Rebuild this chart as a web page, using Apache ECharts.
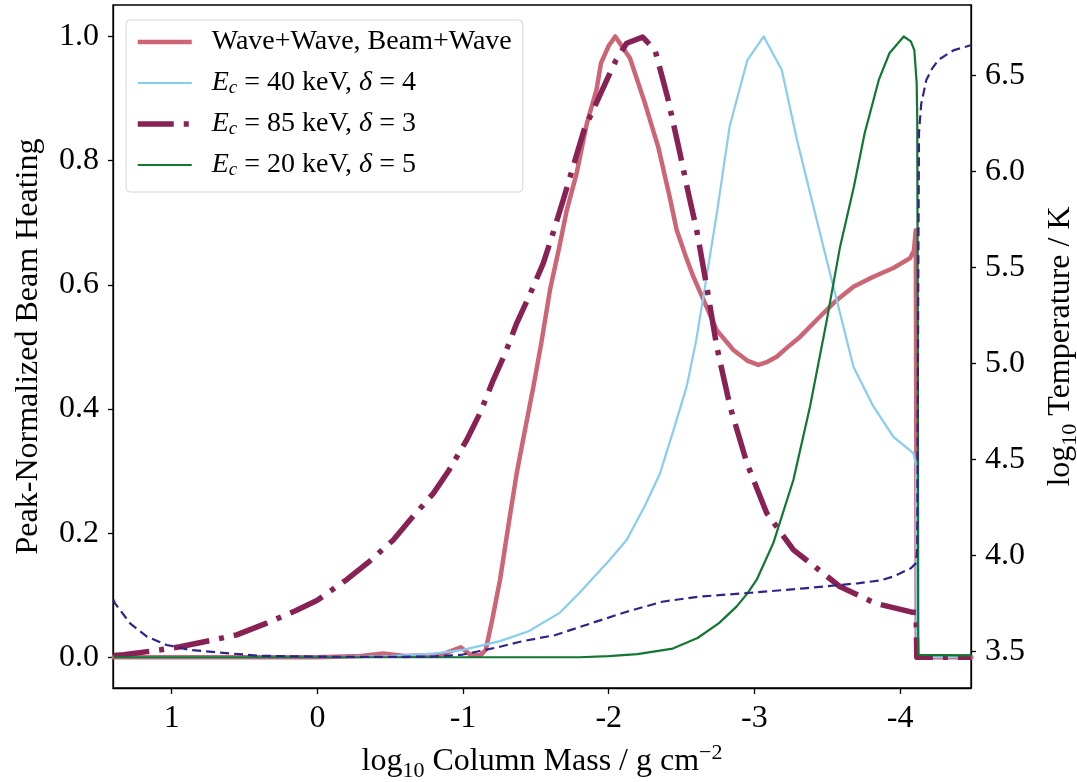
<!DOCTYPE html>
<html>
<head>
<meta charset="utf-8">
<script src="https://cdn.jsdelivr.net/npm/echarts@6/dist/echarts.min.js"></script>
<style>
  html, body { margin: 0; padding: 0; background: #fff; }
  #chart { width: 1077px; height: 782px; }
</style>
</head>
<body>
<div id="chart"></div>
<script>
// ---- Data ----
const xTicks = [1, 0, -1, -2, -3, -4];
const yLeftTicks = [0.0, 0.2, 0.4, 0.6, 0.8, 1.0];
const yRightTicks = [3.5, 4.0, 4.5, 5.0, 5.5, 6.0, 6.5];

const seriesNames = [
  'Wave+Wave, Beam+Wave',
  'E_c = 40 keV, δ = 4',
  'E_c = 85 keV, δ = 3',
  'E_c = 20 keV, δ = 5'
];

// Wave+Wave, Beam+Wave (peak-normalized heating)
const waveX = [1.40, 1.0, 0.5, 0.0, -0.3, -0.45, -0.6, -0.85, -0.984, -1.05, -1.12, -1.156, -1.2, -1.254, -1.31, -1.368, -1.42, -1.483, -1.54, -1.597, -1.66, -1.712, -1.78, -1.85, -1.916, -1.947, -2.0, -2.045, -2.146, -2.245, -2.342, -2.42, -2.467, -2.53, -2.581, -2.65, -2.741, -2.856, -2.95, -3.027, -3.09, -3.153, -3.23, -3.313, -3.451, -3.554, -3.68, -3.817, -3.954, -4.069, -4.095, -4.108, -4.115, -4.49];
const waveY = [0, 0, 0, 0, 0.002, 0.006, 0.002, 0.004, 0.016, 0.004, 0.003, 0.012, 0.06, 0.125, 0.21, 0.296, 0.36, 0.436, 0.51, 0.592, 0.66, 0.72, 0.78, 0.86, 0.914, 0.957, 0.985, 1.0, 0.965, 0.895, 0.82, 0.74, 0.688, 0.645, 0.613, 0.576, 0.527, 0.495, 0.478, 0.471, 0.476, 0.484, 0.5, 0.516, 0.549, 0.573, 0.597, 0.613, 0.627, 0.643, 0.655, 0.688, 0.0, 0.0];

// E_c = 40 keV, delta = 4
const e40X = [1.40, 0.0, -0.5, -0.8, -1.0, -1.254, -1.45, -1.666, -1.8, -1.894, -2.0, -2.123, -2.25, -2.352, -2.45, -2.535, -2.6, -2.65, -2.742, -2.776, -2.83, -2.952, -3.064, -3.188, -3.293, -3.36, -3.474, -3.588, -3.68, -3.817, -3.954, -4.091, -4.11, -4.115, -4.49];
const e40Y = [0, 0, 0.002, 0.006, 0.012, 0.026, 0.042, 0.072, 0.104, 0.128, 0.155, 0.189, 0.245, 0.296, 0.37, 0.436, 0.51, 0.581, 0.715, 0.769, 0.855, 0.962, 1.0, 0.946, 0.833, 0.769, 0.661, 0.554, 0.468, 0.404, 0.355, 0.329, 0.31, 0, 0];

// E_c = 85 keV, delta = 3
const e85X = [1.40, 1.33, 1.075, 0.943, 0.714, 0.554, 0.348, 0.15, 0.0, -0.201, -0.36, -0.521, -0.65, -0.796, -0.9, -1.025, -1.12, -1.208, -1.29, -1.368, -1.46, -1.551, -1.62, -1.688, -1.83, -1.977, -2.05, -2.123, -2.233, -2.318, -2.403, -2.489, -2.549, -2.604, -2.673, -2.742, -2.833, -2.948, -3.085, -3.268, -3.474, -3.586, -3.83, -4.074, -4.11, -4.115, -4.49];
const e85Y = [0.003, 0.004, 0.012, 0.017, 0.028, 0.036, 0.055, 0.075, 0.092, 0.125, 0.155, 0.189, 0.225, 0.264, 0.3, 0.35, 0.395, 0.447, 0.49, 0.538, 0.585, 0.635, 0.685, 0.737, 0.849, 0.925, 0.962, 0.989, 0.999, 0.978, 0.903, 0.812, 0.745, 0.688, 0.597, 0.5, 0.404, 0.313, 0.232, 0.173, 0.135, 0.114, 0.087, 0.073, 0.072, 0.0, 0.0];

// E_c = 20 keV, delta = 5
const e20X = [1.40, 0.0, -1.0, -1.8, -2.0, -2.196, -2.44, -2.61, -2.757, -2.879, -2.952, -3.016, -3.13, -3.268, -3.382, -3.497, -3.588, -3.683, -3.757, -3.854, -3.927, -4.025, -4.074, -4.098, -4.114, -4.118, -4.122, -4.125, -4.49];
const e20Y = [0, 0, 0, 0, 0.002, 0.005, 0.014, 0.031, 0.055, 0.082, 0.103, 0.125, 0.184, 0.286, 0.404, 0.543, 0.661, 0.758, 0.844, 0.93, 0.973, 1.0, 0.992, 0.978, 0.925, 0.866, 0.5, 0.004, 0.003];

// log10 Temperature / K (right axis)
const tempX = [1.40, 1.389, 1.286, 1.17, 1.034, 0.874, 0.668, 0.4, 0.0, -0.5, -0.8, -0.984, -1.1, -1.254, -1.392, -1.635, -1.879, -2.123, -2.367, -2.61, -2.976, -3.342, -3.708, -3.863, -3.952, -4.074, -4.11, -4.118, -4.126, -4.13, -4.145, -4.18, -4.22, -4.263, -4.366, -4.49];
const tempY = [3.77, 3.751, 3.647, 3.577, 3.534, 3.508, 3.494, 3.478, 3.473, 3.472, 3.474, 3.482, 3.5, 3.525, 3.551, 3.586, 3.647, 3.707, 3.759, 3.785, 3.806, 3.829, 3.855, 3.87, 3.89, 3.933, 3.96, 4.05, 5.6, 6.2, 6.35, 6.475, 6.535, 6.58, 6.63, 6.658];

// ---- helpers ----
function zip(xs, ys) { return xs.map((x, i) => [x, ys[i]]); }

const FONT = '"Liberation Serif", "DejaVu Serif", serif';

function legendRich(name) {
  const m = name.match(/^E_c = (\d+) keV, δ = (\d+)$/);
  if (!m) return '{n|' + name + '}';
  return '{it|E}{sub|c}{n| = ' + m[1] + ' keV, }{it|δ}{n| = ' + m[2] + '}';
}

const chart = echarts.init(document.getElementById('chart'), null, { renderer: 'canvas' });

const option = {
  backgroundColor: '#ffffff',
  animation: false,
  grid: {
    left: 113, right: 106, top: 5, bottom: 94,
    outerBoundsMode: 'none', containLabel: false,
    show: true, borderColor: '#000', borderWidth: 1.3, backgroundColor: '#fff'
  },
  legend: {
    data: seriesNames,
    orient: 'vertical',
    left: 126, top: 20,
    padding: [8, 11, 13, 9],
    itemWidth: 54, itemHeight: 14, itemGap: 13,
    backgroundColor: 'rgba(255,255,255,0.85)',
    borderColor: '#d6d6d6', borderWidth: 1, borderRadius: 4,
    itemStyle: { opacity: 0 },
    lineStyle: { width: 'inherit', type: 'inherit', cap: 'butt' },
    formatter: legendRich,
    textStyle: {
      fontFamily: FONT, fontSize: 28, color: '#000', lineHeight: 28,
      padding: [0, 0, 0, 15],
      rich: {
        n: { fontFamily: FONT, fontSize: 28, color: '#000', lineHeight: 28 },
        it: { fontFamily: FONT, fontSize: 28, fontStyle: 'italic', color: '#000', lineHeight: 28 },
        sub: { fontFamily: FONT, fontSize: 19, fontStyle: 'italic', color: '#000', lineHeight: 19, verticalAlign: 'bottom' }
      }
    }
  },
  xAxis: {
    type: 'value', inverse: true, min: -4.487, max: 1.403,
    splitLine: { show: false },
    axisLine: { show: true, onZero: false, lineStyle: { color: '#000', width: 1.3 } },
    axisTick: { show: true, length: 6, customValues: xTicks, lineStyle: { color: '#000', width: 1.3 } },
    axisLabel: {
      customValues: xTicks, margin: 15, color: '#000', fontFamily: FONT, fontSize: 32,
      formatter: v => String(v)
    },
    name: '{n|log}{sub|10}{n| Column Mass / g cm}{sup|−2}',
    nameLocation: 'middle', nameGap: 54,
    nameTextStyle: {
      rich: {
        n: { fontFamily: FONT, fontSize: 32, color: '#000', lineHeight: 40, verticalAlign: 'middle' },
        sub: { fontFamily: FONT, fontSize: 22, color: '#000', lineHeight: 22, verticalAlign: 'bottom' },
        sup: { fontFamily: FONT, fontSize: 22, color: '#000', lineHeight: 22, verticalAlign: 'top' }
      }
    }
  },
  yAxis: [
    {
      type: 'value', position: 'left', min: -0.0495, max: 1.0507,
      splitLine: { show: false },
      axisLine: { show: true, onZero: false, lineStyle: { color: '#000', width: 1.3 } },
      axisTick: { show: true, length: 5, customValues: yLeftTicks, lineStyle: { color: '#000', width: 1.3 } },
      axisLabel: {
        customValues: yLeftTicks, margin: 14, color: '#000', fontFamily: FONT, fontSize: 32,
        formatter: v => v.toFixed(1)
      },
      name: 'Peak-Normalized Beam Heating',
      nameLocation: 'middle', nameGap: 68,
      nameTextStyle: { fontFamily: FONT, fontSize: 32, color: '#000' }
    },
    {
      type: 'value', position: 'right', min: 3.31, max: 6.866,
      splitLine: { show: false },
      axisLine: { show: true, onZero: false, lineStyle: { color: '#000', width: 1.3 } },
      axisTick: { show: true, length: 5, customValues: yRightTicks, lineStyle: { color: '#000', width: 1.3 } },
      axisLabel: {
        customValues: yRightTicks, margin: 14, color: '#000', fontFamily: FONT, fontSize: 32,
        formatter: v => v.toFixed(1)
      },
      name: '{n|log}{sub|10}{n| Temperature / K}',
      nameLocation: 'middle', nameGap: 70,
      nameTextStyle: {
        rich: {
          n: { fontFamily: FONT, fontSize: 32, color: '#000', lineHeight: 40, verticalAlign: 'middle' },
          sub: { fontFamily: FONT, fontSize: 22, color: '#000', lineHeight: 22, verticalAlign: 'bottom' }
        }
      }
    }
  ],
  series: [
    {
      name: seriesNames[0], type: 'line', yAxisIndex: 0, symbol: 'none', smooth: false,
      data: zip(waveX, waveY),
      lineStyle: { color: '#CC6677', width: 4.5, join: 'round', cap: 'round' },
      itemStyle: { color: '#CC6677' }, z: 2
    },
    {
      name: seriesNames[1], type: 'line', yAxisIndex: 0, symbol: 'none',
      data: zip(e40X, e40Y),
      lineStyle: { color: '#88CCEE', width: 2.2, join: 'round' },
      itemStyle: { color: '#88CCEE' }, z: 3
    },
    {
      name: seriesNames[2], type: 'line', yAxisIndex: 0, symbol: 'none',
      data: zip(e85X, e85Y),
      lineStyle: { color: '#882255', width: 5.5, type: [36, 10, 5, 10], cap: 'butt', join: 'round' },
      itemStyle: { color: '#882255' }, z: 4
    },
    {
      name: seriesNames[3], type: 'line', yAxisIndex: 0, symbol: 'none',
      data: zip(e20X, e20Y),
      lineStyle: { color: '#117733', width: 2.2, join: 'round' },
      itemStyle: { color: '#117733' }, z: 5
    },
    {
      name: 'log10 Temperature', type: 'line', yAxisIndex: 1, symbol: 'none',
      data: zip(tempX, tempY),
      lineStyle: { color: '#332288', width: 2.2, type: [9, 5], join: 'round' },
      itemStyle: { color: '#332288' }, z: 6
    }
  ]
};

chart.setOption(option);
</script>
</body>
</html>
